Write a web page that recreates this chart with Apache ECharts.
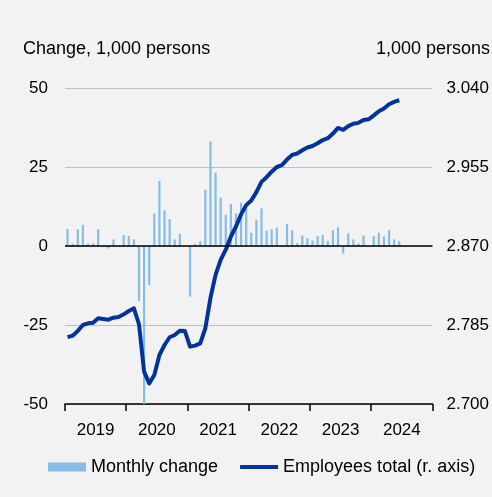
<!DOCTYPE html>
<html>
<head>
<meta charset="utf-8">
<title>Employees</title>
<script src="https://cdn.jsdelivr.net/npm/echarts@6/dist/echarts.min.js"></script>
<style>
  html, body { margin: 0; padding: 0; background: #f2f2f2; }
  #chart { width: 492px; height: 497px; }
</style>
</head>
<body>
<div id="chart"></div>
<script>
// years on the x axis
const years = ["2019", "2020", "2021", "2022", "2023", "2024"];

// monthly change, 1,000 persons (Jan 2019 - Jun 2024)
const monthlyChange = [
  5.4, 0.7, 5.3, 6.7, 0.8, 0.8, 5.3, -0.4, -0.8, 2.1, 0.2, 3.5,
  3.2, 2.1, -17.4, -50, -12.4, 10.3, 20.6, 11.3, 8.5, 2.1, 3.8, 0,
  -16, 0.7, 1.5, 17.8, 33.1, 23.2, 15.3, 9.9, 13.3, 10.3, 13.7, 12.3,
  4.2, 8.3, 11.9, 4.8, 5.3, 5.8, 0.2, 7.0, 5.0, 0.9, 3.3, 2.4,
  1.7, 3.2, 3.5, 1.6, 5.0, 5.9, -2.4, 4.0, 2.1, 0.8, 3.3, 0.1,
  3.2, 4.2, 3.0, 5.0, 2.1, 1.5
];

// employees total, 1,000 persons (right axis)
const employeesTotal = [
  2772, 2773.5, 2778.5, 2785, 2786.8, 2787.5, 2792.2, 2791.5, 2790.7, 2792.9, 2793.6, 2796.5,
  2800, 2803, 2785.8, 2734.8, 2722.2, 2731.2, 2752.7, 2763.5, 2771.8, 2774.2, 2778.9, 2778.5,
  2761.7, 2762.8, 2765.3, 2781.5, 2814, 2839, 2855, 2866, 2880, 2891, 2904, 2914,
  2919, 2928, 2939, 2944, 2950, 2955, 2957, 2963, 2968, 2969.5, 2973, 2976,
  2977.6, 2980.5, 2984, 2986, 2991, 2997, 2995, 2999, 3001.5, 3002.5, 3005.5, 3006.3,
  3010.5, 3015, 3018, 3022.5, 3025, 3026.8
];

// one category per month, whole years
const months = [];
years.forEach((y) => {
  for (let m = 1; m <= 12; m++) months.push(y + "-" + m);
});

const font = "Liberation Sans, Arial, sans-serif";
const lineColor = "#00349a";

const chart = echarts.init(document.getElementById("chart"));
const options = {
  backgroundColor: "#f2f2f2",
  animation: false,
  textStyle: { fontFamily: font },
  title: [
    {
      text: "Change, 1,000 persons",
      left: 23,
      top: 40,
      padding: 0,
      textStyle: { fontSize: 18, fontWeight: "normal", color: "#000", fontFamily: font },
    },
    {
      text: "1,000 persons",
      right: 2,
      top: 40,
      padding: 0,
      textStyle: { fontSize: 18, fontWeight: "normal", color: "#000", fontFamily: font },
    },
  ],
  grid: {
    left: 65,
    right: 59,
    top: 88,
    bottom: 93,
  },
  legend: {
    left: 48,
    top: 458,
    padding: 0,
    itemWidth: 38,
    itemHeight: 9,
    itemGap: 20,
    textStyle: { fontSize: 18, color: "#000", fontFamily: font },
    data: [
      { name: "Monthly change", icon: "rect" },
      {
        name: "Employees total (r. axis)",
        itemStyle: { opacity: 0 },
        lineStyle: { color: lineColor, width: 4 },
      },
    ],
  },
  xAxis: [
    {
      type: "category",
      data: years,
      boundaryGap: true,
      axisLine: { onZero: false, lineStyle: { color: "#000", width: 1.5 } },
      axisTick: { show: true, length: 7, lineStyle: { color: "#000", width: 1.5 } },
      axisLabel: { fontSize: 17, color: "#000", margin: 18, fontFamily: font },
      splitLine: { show: false },
    },
    {
      type: "category",
      data: months,
      boundaryGap: true,
      show: false,
    },
  ],
  yAxis: [
    {
      type: "value",
      min: -50,
      max: 50,
      interval: 25,
      axisLine: { show: false },
      axisTick: { show: false },
      axisLabel: { fontSize: 17, color: "#000", margin: 17, fontFamily: font },
      splitLine: { lineStyle: { color: "#bfbfbf", width: 1 } },
    },
    {
      type: "value",
      min: 2700,
      max: 3040,
      interval: 85,
      position: "right",
      axisLine: { show: false },
      axisTick: { show: false },
      axisLabel: {
        fontSize: 17,
        color: "#000",
        margin: 14,
        fontFamily: font,
        formatter: (v) => (v / 1000).toFixed(3),
      },
      splitLine: { show: false },
    },
  ],
  series: [
    {
      name: "Monthly change",
      type: "bar",
      xAxisIndex: 1,
      yAxisIndex: 0,
      barWidth: 2.2,
      data: monthlyChange,
      itemStyle: { color: "#85bde6" },
      markLine: {
        silent: true,
        symbol: "none",
        label: { show: false },
        lineStyle: { color: "#000", width: 1.5, type: "solid" },
        data: [{ yAxis: 0 }],
      },
    },
    {
      name: "Employees total (r. axis)",
      type: "line",
      xAxisIndex: 1,
      yAxisIndex: 1,
      symbol: "none",
      data: employeesTotal,
      lineStyle: { color: lineColor, width: 4, join: "round" },
      itemStyle: { color: lineColor },
      z: 3,
    },
  ],
};
chart.setOption(options);
</script>
</body>
</html>
